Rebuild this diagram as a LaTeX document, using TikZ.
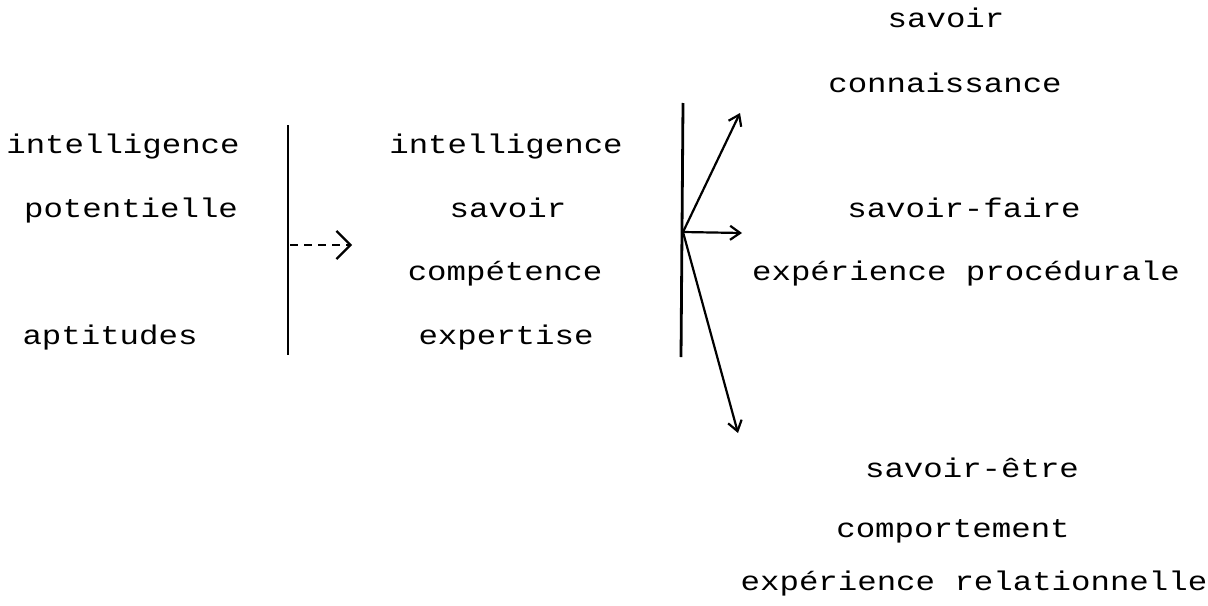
\documentclass[tikz,border=0pt]{standalone}
\usepackage{fontspec}
\usepackage{tikz}
\usetikzlibrary{arrows.meta}
\newfontfamily\matrice[FakeStretch=1.2]{Liberation Mono}
\newcommand\motfont{\matrice\fontsize{13.5}{16}\selectfont}

\begin{document}
\begin{tikzpicture}[x=0.5pt,y=-0.5pt,
  mot/.style={font=\motfont, inner sep=0pt, anchor=base},
  barre/.style={line width=1.4pt},
  lien/.style={line width=1.1pt, -{Straight Barb[length=5pt,width=7pt]}},
  pointille/.style={line width=1.1pt, dash pattern=on 4pt off 3pt,
    -{Straight Barb[length=7pt,width=14pt]}}]
  \useasboundingbox (0,0) rectangle (1208,605);
  % Left column
  \node[mot] (gInt) at (123,153) {intelligence};
  \node[mot] (gPot) at (131,217) {potentielle};
  \node[mot] (gApt) at (110,344) {aptitudes};
  % First bar and dashed arrow
  \coordinate (b1haut) at (288,125);
  \coordinate (b1bas) at (288,355);
  \draw[barre] (b1haut) -- (b1bas);
  \coordinate (b1mil) at (290,245);
  \coordinate (pointe0) at (352,245);
  \draw[pointille] (b1mil) -- (pointe0);
  % Middle column
  \node[mot] (mInt) at (506,153) {intelligence};
  \node[mot] (mSav) at (508,217) {savoir};
  \node[mot] (mComp) at (505,280) {compétence};
  \node[mot] (mExp) at (506,344) {expertise};
  % Second bar and arrows
  \coordinate (b2haut) at (683,103);
  \coordinate (b2bas) at (681,357);
  \draw[barre] (b2haut) -- (b2bas);
  \coordinate (origine) at (683,232);
  \coordinate (pointe1) at (740,113);
  \coordinate (pointe2) at (742,233);
  \coordinate (pointe3) at (738,433);
  \draw[lien] (origine) -- (pointe1);
  \draw[lien] (origine) -- (pointe2);
  \draw[lien] (origine) -- (pointe3);
  % Right column
  \node[mot] (dSav) at (946,27) {savoir};
  \node[mot] (dConn) at (945,92) {connaissance};
  \node[mot] (dSF) at (964,217) {savoir-faire};
  \node[mot] (dProc) at (966,280) {expérience procédurale};
  \node[mot] (dSE) at (972,477) {savoir-être};
  \node[mot] (dComp) at (953,537) {comportement};
  \node[mot] (dRel) at (974,590) {expérience relationnelle};
\end{tikzpicture}
\end{document}
